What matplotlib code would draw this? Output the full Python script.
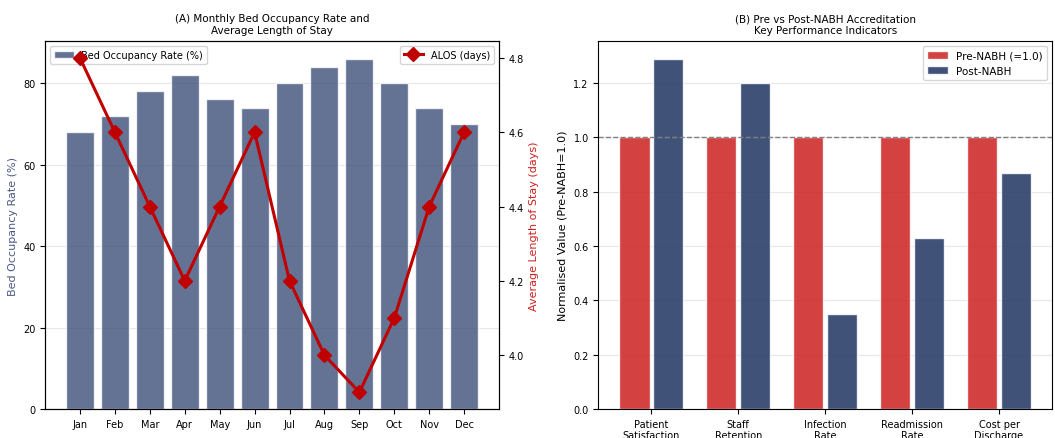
import matplotlib
matplotlib.use("Agg")
import matplotlib.pyplot as plt
import numpy as np

# Panel A data
mois = ["Jan", "Feb", "Mar", "Apr", "May", "Jun", "Jul", "Aug", "Sep", "Oct", "Nov", "Dec"]
occupation = [68, 72, 78, 82, 76, 74, 80, 84, 86, 80, 74, 70]
alos = [4.8, 4.6, 4.4, 4.2, 4.4, 4.6, 4.2, 4.0, 3.9, 4.1, 4.4, 4.6]

# Panel B data
kpi = ["Patient\nSatisfaction", "Staff\nRetention", "Infection\nRate",
       "Readmission\nRate", "Cost per\nDischarge"]
pre_nabh = [1.0, 1.0, 1.0, 1.0, 1.0]
post_nabh = [1.29, 1.20, 0.35, 0.63, 0.87]

plt.rcParams['font.size'] = 7
fig, (ax1, ax3) = plt.subplots(1, 2, figsize=(10.55, 4.39), dpi=100)
fig.subplots_adjust(left=0.043, right=0.997, bottom=0.066, top=0.904, wspace=0.22)

# --- (A) ---
x = np.arange(len(mois))
ax1.bar(x, occupation, color="#3d5078", alpha=0.8, edgecolor="white", label="Bed Occupancy Rate (%)")
ax1.set_xticks(x)
ax1.set_xticklabels(mois)
ax1.set_ylabel("Bed Occupancy Rate (%)", color="#4a5a85", fontsize=8)
ax1.grid(axis="y", alpha=0.3)
ax1.set_axisbelow(True)
ax1.legend(loc="upper left", fontsize=7)
ax1.set_title("(A) Monthly Bed Occupancy Rate and\nAverage Length of Stay", fontsize=7.5)

ax2 = ax1.twinx()
ax2.plot(x, alos, color="#c00000", marker="D", linewidth=2.2, markersize=7, label="ALOS (days)")
ax2.set_ylabel("Average Length of Stay (days)", color="#d02020", fontsize=8)
ax2.legend(loc="upper right", fontsize=7)

# --- (B) ---
xb = np.arange(len(kpi))
w = 0.35
ax3.bar(xb - w / 2 - 0.02, pre_nabh, w, color="#cc2020", alpha=0.85, edgecolor="white", label="Pre-NABH (=1.0)")
ax3.bar(xb + w / 2 + 0.02, post_nabh, w, color="#1f3461", alpha=0.85, edgecolor="white", label="Post-NABH")
ax3.axhline(1.0, color="gray", linestyle="--", linewidth=1)
ax3.set_xticks(xb)
ax3.set_xticklabels(kpi)
ax3.set_ylabel("Normalised Value (Pre-NABH=1.0)", fontsize=8)
ax3.grid(axis="y", alpha=0.3)
ax3.set_axisbelow(True)
ax3.legend(loc="upper right", fontsize=7.5)
ax3.set_title("(B) Pre vs Post-NABH Accreditation\nKey Performance Indicators", fontsize=7.5)

plt.savefig("out.png", dpi=100)
